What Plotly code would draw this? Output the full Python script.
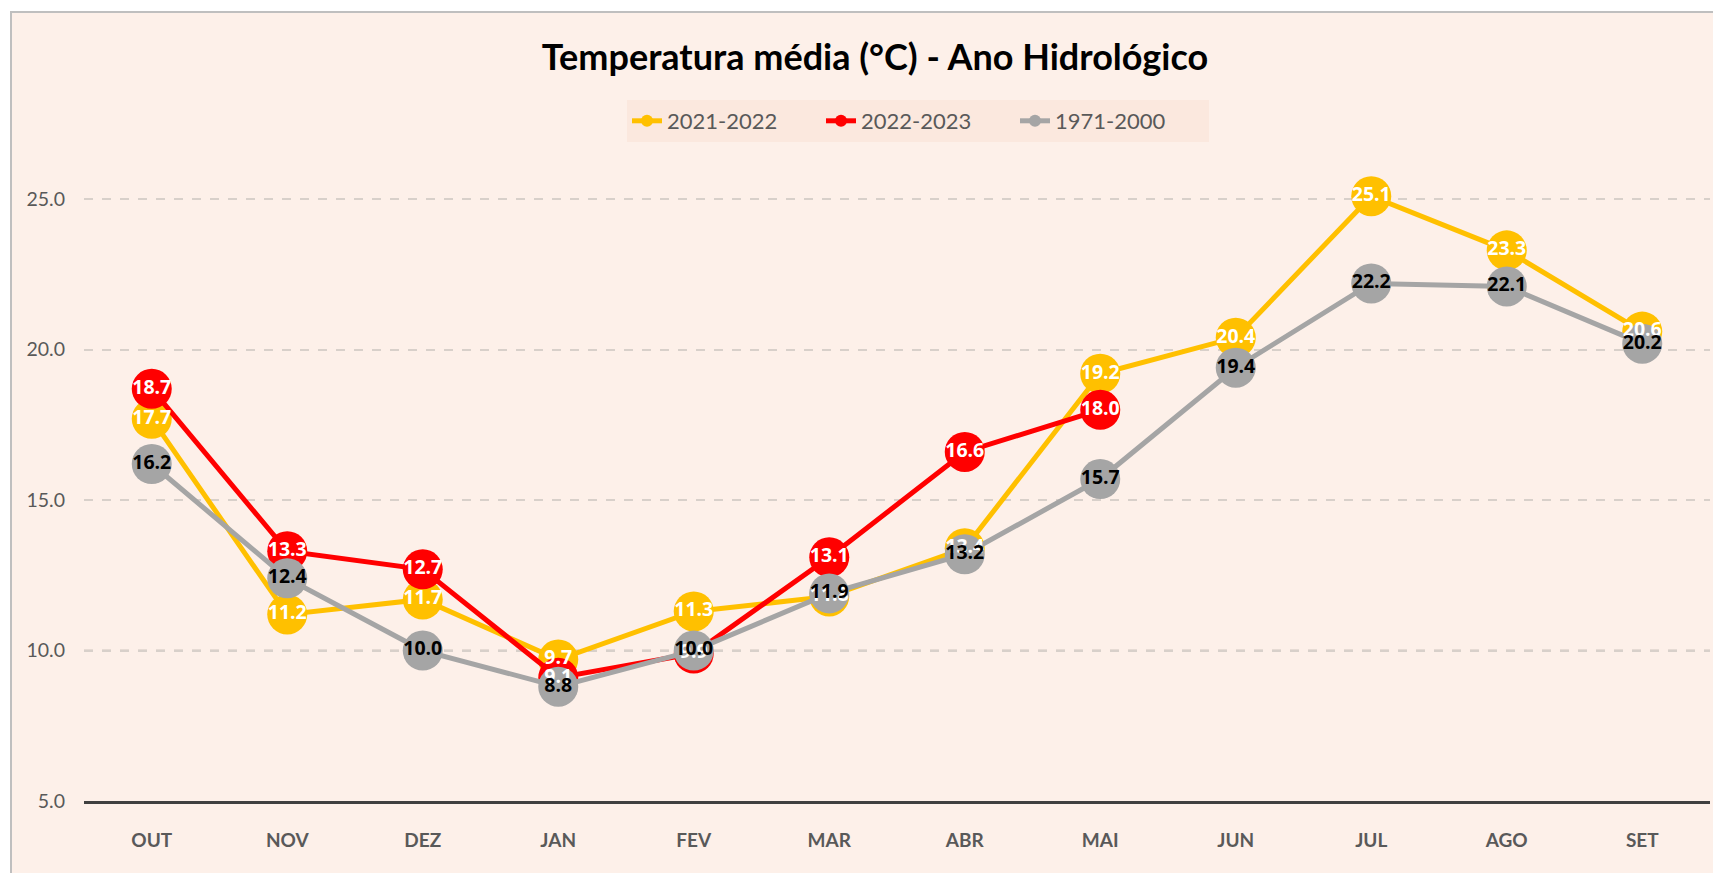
import plotly.graph_objects as go

months = ["OUT", "NOV", "DEZ", "JAN", "FEV", "MAR", "ABR", "MAI", "JUN", "JUL", "AGO", "SET"]
s2122 = [17.7, 11.2, 11.7, 9.7, 11.3, 11.8, 13.4, 19.2, 20.4, 25.1, 23.3, 20.6]
s2223 = [18.7, 13.3, 12.7, 9.1, 9.9, 13.1, 16.6, 18.0, None, None, None, None]
s7100 = [16.2, 12.4, 10.0, 8.8, 10.0, 11.9, 13.2, 15.7, 19.4, 22.2, 22.1, 20.2]
names = ["2021-2022", "2022-2023", "1971-2000"]
colors = ["#FFC000", "#FF0000", "#A5A5A5"]
label_colors = ["white", "white", "black"]
series = [s2122, s2223, s7100]
yticks = [5, 10, 15, 20, 25]
dark_grid = [10, 15]

W, H = 1713, 873
ML, MR, MT, MB = 84, 3, 124, 72
PW, PH = W - ML - MR, H - MT - MB

def px(x):
    return (x - ML) / PW

def py(y):
    return (H - MB - y) / PH

fig = go.Figure()
for vals, name, col in zip(series, names, colors):
    fig.add_trace(go.Scatter(
        x=months, y=vals, name=name, mode="lines+markers",
        line=dict(color=col, width=5),
        marker=dict(color=col, size=40),
        connectgaps=False, cliponaxis=False,
    ))
for vals, name, lc in zip(series, names, label_colors):
    fig.add_trace(go.Scatter(
        x=months, y=vals, mode="text", showlegend=False,
        text=[None if v is None else f"{v:.1f}" for v in vals],
        textposition="middle center",
        textfont=dict(family="Open Sans", size=19.5, color=lc, weight="bold"),
        cliponaxis=False, hoverinfo="skip",
    ))

shapes = [dict(
    type="rect", xref="paper", yref="paper",
    x0=px(11), x1=px(W + 10), y0=py(H + 10), y1=py(12),
    fillcolor="#FDF0E9", line=dict(color="#BFBFBF", width=2), layer="below",
)]
for g in dark_grid:
    shapes.append(dict(
        type="line", xref="paper", yref="y", x0=0, x1=1, y0=g, y1=g,
        line=dict(color="#A39D97", width=1.5, dash="dash"), layer="below",
    ))

fig.update_layout(
    width=W, height=H,
    margin=dict(l=ML, r=MR, t=MT, b=MB),
    paper_bgcolor="white", plot_bgcolor="rgba(0,0,0,0)",
    shapes=shapes,
    title=dict(
        text="<b>Temperatura média (°C) - Ano Hidrológico</b>",
        font=dict(family="Lato", size=36, color="black"),
        x=875 / W, xref="container", xanchor="center",
        y=1 - 57 / H, yref="container", yanchor="middle",
    ),
    legend=dict(
        orientation="h", x=px(918), xanchor="center", y=py(121), yanchor="middle",
        bgcolor="#FBE8DE", font=dict(family="Lato", size=22, color="#595959"),
        entrywidth=149, entrywidthmode="pixels", itemsizing="constant",
    ),
    xaxis=dict(
        type="category", range=[-0.5, 11.5], showgrid=False,
        showline=True, linecolor="#404040", linewidth=3,
        ticks="", ticklabelstandoff=20,
        tickfont=dict(family="Lato", size=19, color="#595959", weight="bold"),
        fixedrange=True,
    ),
    yaxis=dict(
        range=[5, 27.5], tickvals=yticks, ticktext=[f"{v:.1f}" for v in yticks],
        showgrid=True, gridcolor="#D8D0CA", griddash="dash", gridwidth=1.5,
        zeroline=False, showline=False, ticks="", ticklabelstandoff=18,
        tickfont=dict(family="Lato", size=19.5, color="#595959"),
        fixedrange=True,
    ),
    hovermode=False,
)

fig.write_html(
    "out.html",
    config={"displayModeBar": False},
    post_script="document.body.style.margin='0';document.body.style.overflow='hidden';",
)
